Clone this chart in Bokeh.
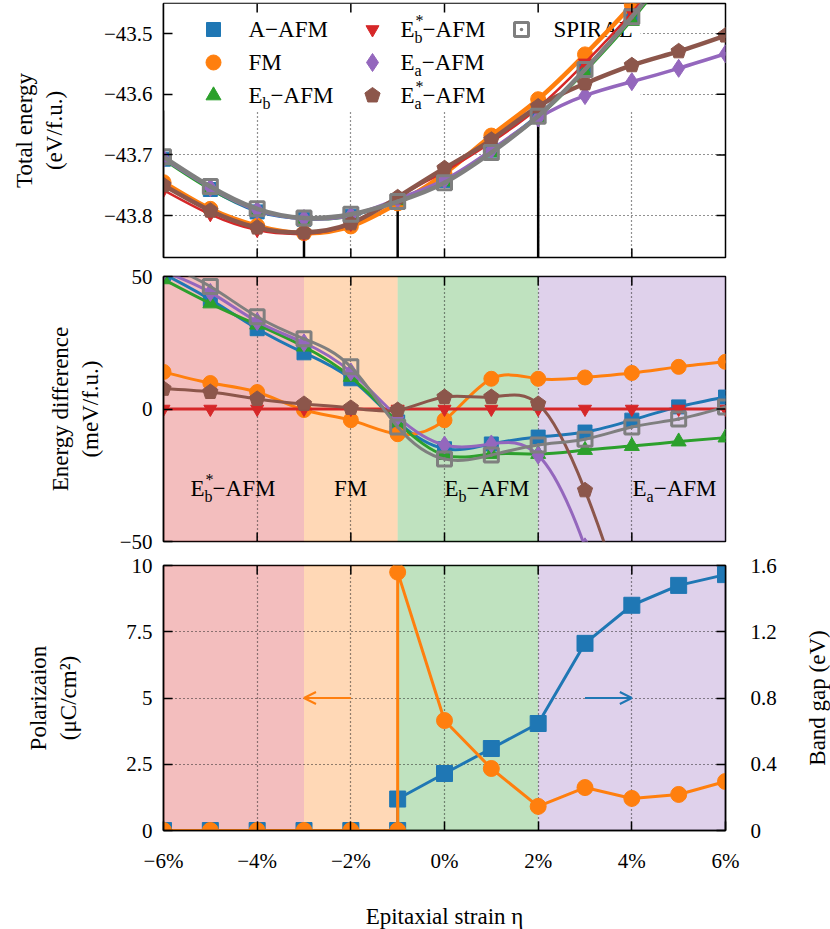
import numpy as np
from bokeh.plotting import figure
from bokeh.models import Range1d, LinearAxis, FixedTicker, ColumnDataSource, Arrow, OpenHead
from bokeh.layouts import column, row
from bokeh.embed import file_html
from bokeh.resources import INLINE
from bokeh.core.properties import value

# ---------------- data ----------------
strain = [-6, -5, -4, -3, -2, -1, 0, 1, 2, 3, 4, 5, 6]
series_names = ["A−AFM", "FM", "E_b−AFM", "E_b^*−AFM", "E_a−AFM", "E_a^*−AFM", "SPIRAL"]

# total energy (eV/f.u.)
E_A_AFM = [-43.707, -43.757, -43.794, -43.806, -43.801, -43.776, -43.742, -43.692, -43.633, -43.557, -43.469, -43.369, -43.266]
E_FM = [-43.745, -43.789, -43.817, -43.829, -43.818, -43.780, -43.731, -43.668, -43.608, -43.534, -43.452, -43.355, -43.250]
E_Eb = [-43.709, -43.758, -43.792, -43.806, -43.802, -43.775, -43.744, -43.696, -43.639, -43.564, -43.479, -43.382, -43.281]
E_Ebs = [-43.758, -43.798, -43.824, -43.830, -43.814, -43.770, -43.727, -43.679, -43.622, -43.548, -43.465, -43.370, -43.270]
E_Ea = [-43.706, -43.754, -43.791, -43.805, -43.800, -43.773, -43.741, -43.692, -43.639, -43.602, -43.579, -43.557, -43.533]
E_Eas = [-43.750, -43.792, -43.820, -43.828, -43.813, -43.770, -43.722, -43.675, -43.620, -43.582, -43.552, -43.529, -43.503]
E_SP = [-43.703, -43.752, -43.789, -43.804, -43.798, -43.777, -43.746, -43.696, -43.636, -43.559, -43.472, -43.374, -43.269]

# energy difference (meV/f.u.)
D_A_AFM = [51.0, 41.3, 30.3, 21.2, 11.4, -4.9, -15.0, -13.2, -10.6, -8.7, -4.2, 0.8, 4.5]
D_FM = [14.0, 9.8, 6.4, -0.4, -4.2, -9.5, -4.2, 11.4, 11.4, 11.9, 13.6, 15.9, 17.8]
D_Eb = [48.9, 39.8, 31.8, 23.5, 12.1, -5.0, -17.4, -17.0, -17.0, -15.5, -14.0, -12.3, -10.8]
D_Ebs = [0, 0, 0, 0, 0, 0, 0, 0, 0, 0, 0, 0, 0]
D_Ea = [52.0, 44.0, 33.0, 25.0, 14.0, -3.0, -13.6, -13.2, -17.4, -52.0, -112.0, -187.0, -263.0]
D_Eas = [7.6, 6.4, 3.8, 1.9, 0.4, -0.4, 4.5, 4.5, 1.9, -30.7, -85.0, -159.0, -233.0]
D_SP = [55.0, 46.2, 34.8, 26.5, 15.9, -6.8, -18.9, -17.4, -13.6, -11.4, -6.8, -3.8, 0.8]

# polarization / band gap
strain_pb = [-6, -5, -4, -3, -2, -1, -1, 0, 1, 2, 3, 4, 5, 6]
polarization = [0, 0, 0, 0, 0, 0, 9.75, 4.15, 2.34, 0.91, 1.62, 1.21, 1.36, 1.85]
band_gap = [0, 0, 0, 0, 0, 0, 0.19, 0.344, 0.495, 0.646, 1.13, 1.36, 1.48, 1.545]

# phase regions
phase_edges = [-6, -3, -1, 2, 6]
phase_labels = ["E_b^*−AFM", "FM", "E_b−AFM", "E_a−AFM"]
boundary_strain = [-3, -1, 2]
boundary_energy = [-43.830, -43.778, -43.640]

x_ticks = [-6, -4, -2, 0, 2, 4, 6]
x_tick_labels = ["−6%", "−4%", "−2%", "0%", "2%", "4%", "6%"]
top_ticks = [-43.8, -43.7, -43.6, -43.5]
top_tick_labels = ["−43.8", "−43.7", "−43.6", "−43.5"]
mid_ticks = [-50, 0, 50]
mid_tick_labels = ["−50", "0", "50"]
pol_ticks = [0, 2.5, 5, 7.5, 10]
pol_tick_labels = ["0", "2.5", "5", "7.5", "10"]
gap_ticks = [0, 0.4, 0.8, 1.2, 1.6]
gap_tick_labels = ["0", "0.4", "0.8", "1.2", "1.6"]

# ---------------- styles ----------------
FONT = "Liberation Serif"
C = {"blue": "#1f77b4", "orange": "#ff7f0e", "green": "#2ca02c", "red": "#d62728",
     "purple": "#9467bd", "brown": "#8c564b", "gray": "#7f7f7f"}
styles = [  # color, marker, marker size, top line width
    (C["blue"], "square", 14, 2.0),
    (C["orange"], "circle", 15, 4.5),
    (C["green"], "triangle", 15, 1.5),
    (C["red"], "inverted_triangle", 13, 2.5),
    (C["purple"], "diamond", 18, 3.5),
    (C["brown"], "pentagon", 16, 4.5),
    (C["gray"], "square_dot", 14, 4.5),
]
phase_colors = [C["red"], C["orange"], C["green"], C["purple"]]

FW = 562
LEFT, RIGHT = 163, 105
X0, X1 = -6, 6
TOP_Y0, TOP_Y1 = -43.8693, -43.4500
GAP0, GAP1 = 0, 1.6
TOP_FH = 254
MID_FH = 265
BOT_FH = 265
TICK = 9
TICK_FS = "21px"
SX = (X1 - X0) / FW
SC_TOP = (SX, (TOP_Y1 - TOP_Y0) / TOP_FH)
SC_MID = (SX, 100 / MID_FH)


def tx(px):  # page px -> strain
    return X0 + (px - 163) * (X1 - X0) / FW


def ty_top(py):
    return TOP_Y1 - (py - 3) * (TOP_Y1 - TOP_Y0) / TOP_FH


def ty_mid(py):
    return 50 - (py - 278) * 100 / MID_FH


W = {'E': 0.611, 'A': 0.722, 'F': 0.556, 'M': 0.889, '−': 0.564, 'b': 0.5, 'a': 0.444,
     '*': 0.5, 'S': 0.556, 'P': 0.556, 'I': 0.333, 'R': 0.667, 'L': 0.611}


def text_w(s, fs):
    return sum(W.get(c, 0.5) for c in s) * fs


def parse(label):
    segs, cur, i = [], "", 0
    while i < len(label):
        c = label[i]
        if c in "_^":
            if cur:
                segs.append([cur, "", ""])
                cur = ""
            segs[-1][1 if c == "_" else 2] = label[i + 1]
            i += 2
            continue
        cur += c
        i += 1
    if cur:
        segs.append([cur, "", ""])
    return segs


def rich(p, x, y, label, fs, align="left"):
    segs = parse(label)
    total = sum(text_w(t, fs) + max(text_w(sb, 0.7 * fs), text_w(sp, 0.7 * fs)) for t, sb, sp in segs)
    off = 0 if align == "left" else -total / 2
    common = dict(text_font=value(FONT), text_baseline="middle", text_align="left", text_color="black")
    for t, sb, sp in segs:
        p.text(x=[x], y=[y], text=[t], x_offset=off, y_offset=0, text_font_size=f"{fs}px", **common)
        off += text_w(t, fs)
        sfs = round(0.7 * fs)
        if sb:
            p.text(x=[x], y=[y], text=[sb], x_offset=off, y_offset=0.34 * fs, text_font_size=f"{sfs}px", **common)
        if sp:
            p.text(x=[x], y=[y], text=[sp], x_offset=off + 1, y_offset=-0.40 * fs, text_font_size=f"{sfs}px", **common)
        off += max(text_w(sb, 0.7 * fs), text_w(sp, 0.7 * fs))


def spline_bezier(xs, ys):
    xs = np.asarray(xs, float)
    ys = np.asarray(ys, float)
    n = len(xs)
    h = np.diff(xs)
    A = np.zeros((n, n))
    r = np.zeros(n)
    A[0, 0] = 1
    A[-1, -1] = 1
    for i in range(1, n - 1):
        A[i, i - 1] = h[i - 1]
        A[i, i] = 2 * (h[i - 1] + h[i])
        A[i, i + 1] = h[i]
        r[i] = 6 * ((ys[i + 1] - ys[i]) / h[i] - (ys[i] - ys[i - 1]) / h[i - 1])
    M = np.linalg.solve(A, r)
    d = (ys[1:] - ys[:-1]) / h
    m0 = d - h * (2 * M[:-1] + M[1:]) / 6
    m1 = d + h * (M[:-1] + 2 * M[1:]) / 6
    return dict(x0=xs[:-1], y0=ys[:-1], x1=xs[1:], y1=ys[1:],
                cx0=xs[:-1] + h / 3, cy0=ys[:-1] + m0 * h / 3,
                cx1=xs[1:] - h / 3, cy1=ys[1:] - m1 * h / 3)


def smooth(p, xs, ys, color, width):
    src = ColumnDataSource(spline_bezier(xs, ys))
    p.bezier(x0="x0", y0="y0", x1="x1", y1="y1", cx0="cx0", cy0="cy0", cx1="cx1", cy1="cy1",
             source=src, line_color=color, line_width=width, line_cap="round")


def marks(p, xs, ys, kind, color, size, scale=None, **kw):
    if kind == "pentagon":
        dxp, dyp = scale  # data units per pixel
        ang = np.pi / 2 + 2 * np.pi * np.arange(5) / 5
        r = size / 2
        pxs = [list(x + r * np.cos(ang) * dxp) for x in xs]
        pys = [list(y + r * np.sin(ang) * dyp) for y in ys]
        return p.patches(pxs, pys, fill_color=color, line_color=color, line_width=1)
    if kind == "square_dot":
        return p.scatter(x=xs, y=ys, marker="square_dot", size=size, line_color=color,
                         fill_color=None, line_width=3, **kw)
    return p.scatter(x=xs, y=ys, marker=kind, size=size, fill_color=color, line_color=color, **kw)


def style_axis(ax, ticks, labels):
    ax.ticker = FixedTicker(ticks=ticks)
    ax.major_label_overrides = {t: l for t, l in zip(ticks, labels)}
    ax.major_tick_in = TICK
    ax.major_tick_out = 0
    ax.minor_tick_line_color = None
    ax.major_tick_line_width = 1.5
    ax.major_tick_line_color = "black"
    ax.axis_line_color = "black"
    ax.axis_line_width = 1.5
    ax.major_label_text_font = FONT
    ax.major_label_text_font_size = TICK_FS
    ax.major_label_text_color = "black"
    ax.axis_label_text_font = FONT
    ax.axis_label_text_font_style = "normal"
    ax.axis_label_text_font_size = "23px"
    ax.axis_label_text_color = "black"


def make_fig(fh, y0, y1, top, bottom, yticks, ylabels, right=RIGHT):
    p = figure(frame_width=FW, frame_height=fh, x_range=Range1d(X0, X1), y_range=Range1d(y0, y1),
               output_backend="svg", toolbar_location=None,
               min_border_left=LEFT, min_border_right=right, min_border_top=top, min_border_bottom=bottom)
    p.outline_line_color = "black"
    p.outline_line_width = 1.5
    p.background_fill_color = "white"
    p.border_fill_color = "white"
    style_axis(p.below[0], x_ticks, x_tick_labels)
    style_axis(p.left[0], yticks, ylabels)
    p.xgrid.ticker = FixedTicker(ticks=x_ticks)
    p.ygrid.ticker = FixedTicker(ticks=yticks)
    for g in (p.xgrid[0], p.ygrid[0]):
        g.grid_line_color = "#222222"
        g.grid_line_dash = "1 3"
        g.grid_line_width = 1.2
    return p


def tick_marks(p, y0, y1, fh, sides, yticks=None):
    dx = TICK * (X1 - X0) / FW
    dy = TICK * (y1 - y0) / fh
    inner = [t for t in x_ticks if X0 < t < X1]
    if "bottom" in sides:
        p.segment(x0=inner, y0=[y0] * len(inner), x1=inner, y1=[y0 + dy] * len(inner),
                  line_color="black", line_width=1.5)
    if "top" in sides:
        p.segment(x0=inner, y0=[y1] * len(inner), x1=inner, y1=[y1 - dy] * len(inner),
                  line_color="black", line_width=1.5)
    if "right" in sides:
        yt = [t for t in yticks if y0 < t < y1]
        p.segment(x0=[X1] * len(yt), y0=yt, x1=[X1 - dx] * len(yt), y1=yt,
                  line_color="black", line_width=1.5)


def bands(p, y0, y1):
    p.quad(left=phase_edges[:-1], right=phase_edges[1:], bottom=y0, top=y1,
           fill_color=phase_colors, fill_alpha=0.3, line_color=None, level="image")


# ---------------- top panel ----------------
p1 = make_fig(TOP_FH, TOP_Y0, TOP_Y1, 3, 7, top_ticks, top_tick_labels)
p1.below[0].visible = False
p1.left[0].axis_label = "Total energy\n(eV/f.u.)"
p1.left[0].major_label_standoff = 11
p1.left[0].axis_label_standoff = 34

p1.quad(left=[X0], right=[tx(640)], bottom=[ty_top(110)], top=[TOP_Y1], fill_color="white", line_color=None)
p1.segment(x0=boundary_strain, y0=[TOP_Y0] * 3, x1=boundary_strain, y1=boundary_energy,
           line_color="black", line_width=2.5)

# legend
leg_cols = [(tx(213), tx(248)), (tx(372), tx(400)), (tx(521), tx(553))]
leg_rows = [ty_top(29), ty_top(62), ty_top(95)]
for k, name in enumerate(series_names):
    col, rw = divmod(k, 3)
    mx, lx = leg_cols[col]
    color, mk, ms, _ = styles[k]
    marks(p1, [mx], [leg_rows[rw]], mk, color, ms, scale=SC_TOP)
    rich(p1, lx, leg_rows[rw], name, 23)

top_series = [E_A_AFM, E_FM, E_Eb, E_Ebs, E_Ea, E_Eas, E_SP]
for ys, (color, mk, ms, lw) in zip(top_series, styles):
    smooth(p1, strain, ys, color, lw)
    marks(p1, strain, ys, mk, color, ms, scale=SC_TOP)
tick_marks(p1, TOP_Y0, TOP_Y1, TOP_FH, ["bottom", "top", "right"], top_ticks)

# ---------------- middle panel ----------------
p2 = make_fig(MID_FH, -50, 50, 12, 12, mid_ticks, mid_tick_labels)
p2.below[0].visible = False
p2.ygrid.visible = False
p2.left[0].axis_label = "Energy difference\n(meV/f.u.)"
p2.left[0].major_label_standoff = 11
p2.left[0].axis_label_standoff = 14
bands(p2, -50, 50)

label_pos = [(tx(190), "left"), (tx(350), "center"), (tx(444), "left"), (tx(632), "left")]
for lab, (lx, al) in zip(phase_labels, label_pos):
    rich(p2, lx, ty_mid(490), lab, 23, align=al)

mid_series = [D_A_AFM, D_FM, D_Eb, D_Ebs, D_Ea, D_Eas, D_SP]
for ys, (color, mk, ms, _) in zip(mid_series, styles):
    smooth(p2, strain, ys, color, 3)
    marks(p2, strain, ys, mk, color, ms, scale=SC_MID)
tick_marks(p2, -50, 50, MID_FH, ["bottom", "top", "right"], mid_ticks)

# ---------------- bottom panel ----------------
P3_RIGHT = 58
p3 = make_fig(BOT_FH, 0, 10, 12, 99, pol_ticks, pol_tick_labels, right=P3_RIGHT)
p3.extra_y_ranges = {"gap": Range1d(GAP0, GAP1)}
p3.below[0].axis_label = "Epitaxial strain η"
p3.below[0].major_label_standoff = 18
p3.below[0].axis_label_standoff = 28
p3.left[0].axis_label = "Polarizaion\n(μC/cm²)"
p3.left[0].major_label_standoff = 11
p3.left[0].axis_label_standoff = 42
rax = LinearAxis(y_range_name="gap")
style_axis(rax, gap_ticks, gap_tick_labels)
rax.major_label_standoff = 25
p3.add_layout(rax, "right")
bands(p3, 0, 10)

p3.line(strain_pb, band_gap, y_range_name="gap", line_color=C["blue"], line_width=3)
marks(p3, strain_pb, band_gap, "square", C["blue"], 16, y_range_name="gap")
p3.line(strain_pb, polarization, line_color=C["orange"], line_width=3)
marks(p3, strain_pb, polarization, "circle", C["orange"], 16)
tick_marks(p3, 0, 10, BOT_FH, ["top"])

p3.add_layout(Arrow(end=OpenHead(size=12, line_color=C["orange"], line_width=2),
                    x_start=-2, y_start=5, x_end=-3, y_end=5, line_color=C["orange"], line_width=2))
p3.add_layout(Arrow(end=OpenHead(size=12, line_color=C["blue"], line_width=2),
                    x_start=3, y_start=0.8, x_end=4, y_end=0.8, y_range_name="gap",
                    line_color=C["blue"], line_width=2))

# narrow companion figure carrying the right-hand axis title (reads bottom-to-top)
LBL_W = 830 - (LEFT + FW + P3_RIGHT)
p4 = figure(frame_width=1, frame_height=BOT_FH, x_range=Range1d(0, 1), y_range=Range1d(GAP0, GAP1),
            output_backend="svg", toolbar_location=None,
            min_border_left=LBL_W - 1, min_border_right=0, min_border_top=12, min_border_bottom=99)
p4.outline_line_color = None
p4.background_fill_color = "white"
p4.border_fill_color = "white"
p4.grid.visible = False
p4.below[0].visible = False
ax4 = p4.left[0]
ax4.ticker = FixedTicker(ticks=[])
ax4.axis_line_color = None
ax4.major_tick_line_color = None
ax4.minor_tick_line_color = None
ax4.axis_label = "Band gap (eV)"
ax4.axis_label_standoff = 0
ax4.axis_label_text_font = FONT
ax4.axis_label_text_font_style = "normal"
ax4.axis_label_text_font_size = "23px"
ax4.axis_label_text_color = "black"
p4.scatter(x=[0.5], y=[GAP0], size=0, alpha=0)

layout = column(p1, p2, row(p3, p4, spacing=0), spacing=0)
open("out.html", "w").write(file_html(layout, INLINE))
